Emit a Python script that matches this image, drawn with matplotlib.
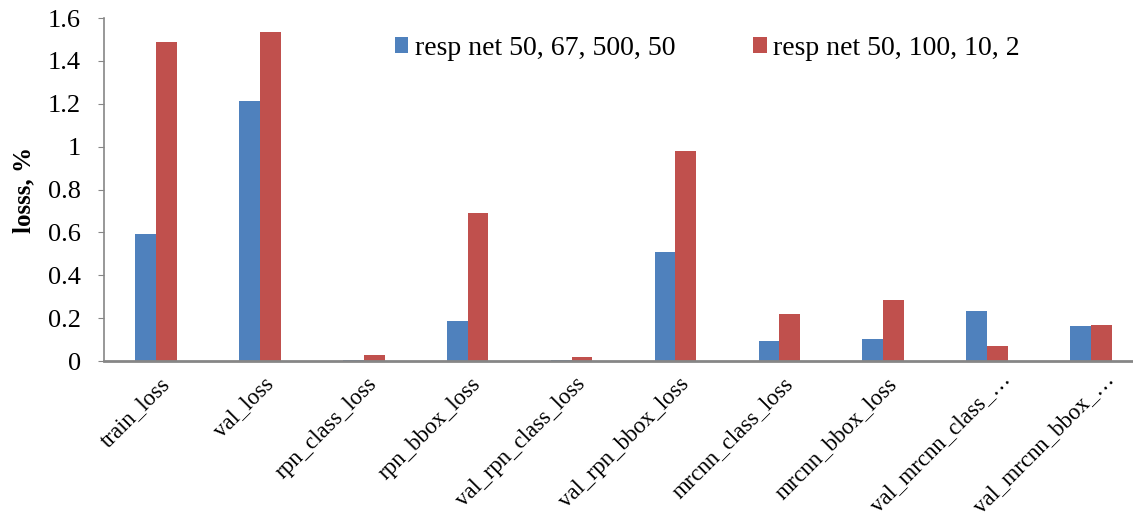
import numpy as np
import matplotlib
matplotlib.use("Agg")
import matplotlib.pyplot as plt
from matplotlib.transforms import ScaledTranslation

plt.rcParams['font.family'] = ['Liberation Serif', 'DejaVu Serif']

categories = ["train_loss", "val_loss", "rpn_class_loss", "rpn_bbox_loss",
              "val_rpn_class_loss", "val_rpn_bbox_loss", "mrcnn_class_loss",
              "mrcnn_bbox_loss", "val_mrcnn_class_…", "val_mrcnn_bbox_…"]
series_a_name = "resp net 50, 67, 500, 50"
series_b_name = "resp net 50, 100, 10, 2"
series_a = [0.592, 1.213, 0.005, 0.187, 0.005, 0.508, 0.093, 0.103, 0.233, 0.163]
series_b = [1.488, 1.535, 0.028, 0.690, 0.018, 0.980, 0.220, 0.285, 0.070, 0.168]
y_ticks = [0, 0.2, 0.4, 0.6, 0.8, 1, 1.2, 1.4, 1.6]
y_tick_labels = ["0", "0.2", "0.4", "0.6", "0.8", "1", "1.2", "1.4", "1.6"]

fig = plt.figure(figsize=(11.33, 5.18), dpi=100)
# plot area runs slightly past the right edge of the canvas
ax = fig.add_axes([0.0918, 0.303, 0.917, 0.662])

x = np.arange(len(categories))
w = 0.2
ax.bar(x - w / 2, series_a, w, color="#4F81BD", label=series_a_name)
ax.bar(x + w / 2, series_b, w, color="#C0504D", label=series_b_name)

ax.set_xlim(-0.5, len(categories) - 0.5)
ax.set_ylim(0, 1.6)
ax.set_yticks(y_ticks)
ax.set_yticklabels(y_tick_labels, fontsize=19)
ax.set_xticks(x)
ax.set_xticklabels(categories, rotation=45, ha="right", rotation_mode="anchor",
                   fontsize=16.5)
ax.tick_params(axis="x", length=0, pad=9)
ax.tick_params(axis="y", direction="out", length=4.5, color="#868686", pad=12)

# nudge the rotated labels; truncated names sit further to the right
for lab in ax.get_xticklabels():
    dx, dy = (12, 5) if lab.get_text().endswith("…") else (3, 0)
    lab.set_transform(lab.get_transform() +
                      ScaledTranslation(dx / 100, dy / 100, fig.dpi_scale_trans))

for s in ["top", "right"]:
    ax.spines[s].set_visible(False)
ax.spines["left"].set_color("#868686")
ax.spines["bottom"].set_color("#868686")
ax.spines["bottom"].set_linewidth(2)
ax.spines["left"].set_linewidth(1.2)

ax.set_ylabel("losss, %", fontsize=18, fontweight="bold")
ax.yaxis.set_label_coords(-0.066, 0.5)

ax.legend(loc="upper left", bbox_to_anchor=(0.2556, 1.02), ncol=2, frameon=False,
          fontsize=20, handlelength=0.5, handleheight=0.5, handletextpad=0.22,
          columnspacing=2.8)

fig.savefig("out.png", dpi=100)
